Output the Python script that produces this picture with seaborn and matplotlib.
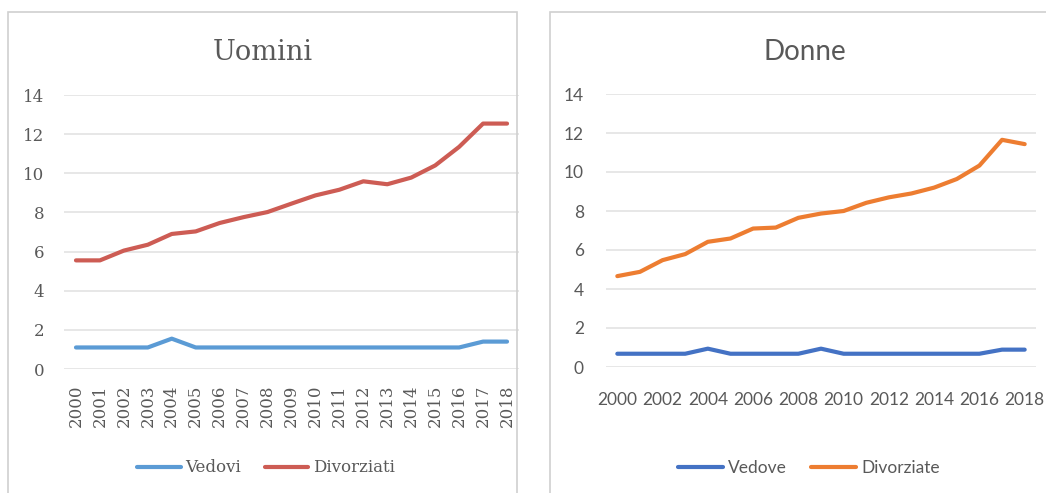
import numpy as np
import pandas as pd
import matplotlib
matplotlib.use("Agg")
import matplotlib.pyplot as plt
from matplotlib.patches import Rectangle
import seaborn as sns

# =========================================
# DATA
# =========================================

years = list(range(2000, 2019))

vedovi = [1.1, 1.1, 1.1, 1.1, 1.55, 1.1, 1.1, 1.1, 1.1, 1.1,
          1.1, 1.1, 1.1, 1.1, 1.1, 1.1, 1.1, 1.4, 1.4]
divorziati = [5.55, 5.55, 6.05, 6.35, 6.9, 7.03, 7.46, 7.76, 8.02, 8.45,
              8.87, 9.16, 9.59, 9.44, 9.78, 10.4, 11.35, 12.54, 12.54]

vedove = [0.68, 0.68, 0.68, 0.68, 0.94, 0.68, 0.68, 0.68, 0.68, 0.94,
          0.68, 0.68, 0.68, 0.68, 0.68, 0.68, 0.68, 0.89, 0.89]
divorziate = [4.66, 4.88, 5.48, 5.79, 6.42, 6.59, 7.1, 7.15, 7.65, 7.87,
              8.0, 8.42, 8.7, 8.9, 9.2, 9.64, 10.33, 11.65, 11.43]

y_ticks = [0, 2, 4, 6, 8, 10, 12, 14]

df_uomini = pd.DataFrame({
    "anno": years * 2,
    "valore": vedovi + divorziati,
    "stato": ["Vedovi"] * len(years) + ["Divorziati"] * len(years),
})

df_donne = pd.DataFrame({
    "anno": years * 2,
    "valore": vedove + divorziate,
    "stato": ["Vedove"] * len(years) + ["Divorziate"] * len(years),
})

# =========================================
# STYLE
# =========================================

sns.set_style("white")

text_color = "#595959"
grid_color = "#e3e3e3"
W, H = 1046, 493

fig = plt.figure(figsize=(W / 100, H / 100), dpi=100)

# chart borders (excel-like chart areas)
fig.patches.append(Rectangle((8 / W, -0.05), (517 - 8) / W, (H - 12) / H + 0.05,
                             transform=fig.transFigure, fill=False,
                             edgecolor="#d0d0d0", linewidth=1.2))
fig.patches.append(Rectangle((550 / W, -0.05), 0.6, (H - 12) / H + 0.05,
                             transform=fig.transFigure, fill=False,
                             edgecolor="#d0d0d0", linewidth=1.2))

ax1 = fig.add_axes([64 / W, (H - 369) / H, 455 / W, 274 / H])
ax2 = fig.add_axes([606 / W, (H - 367) / H, 430 / W, 273 / H])


def style_axis(ax, family, size, ypad, xpad):
    ax.set_ylim(0, 14)
    ax.set_xlim(1999.5, 2018.5)
    ax.set_yticks(y_ticks)
    ax.grid(axis="y", color=grid_color, linewidth=1.2)
    ax.grid(axis="x", visible=False)
    for s in ax.spines.values():
        s.set_visible(False)
    ax.set_xlabel("")
    ax.set_ylabel("")
    ax.tick_params(axis="both", length=0, colors=text_color, labelsize=size)
    ax.tick_params(axis="y", pad=ypad)
    ax.tick_params(axis="x", pad=xpad)
    for lab in ax.get_xticklabels() + ax.get_yticklabels():
        lab.set_family(family)


# =========================================
# UOMINI
# =========================================

sns.lineplot(data=df_uomini, x="anno", y="valore", hue="stato",
             palette={"Vedovi": "#5b9bd5", "Divorziati": "#cd5c54"},
             linewidth=3.0, legend=False, ax=ax1)

ax1.set_xticks(years)
ax1.set_xticklabels([str(y) for y in years], rotation=90)
style_axis(ax1, "DejaVu Serif", 12, 14, 11)

ax1.legend(handles=ax1.lines[:2], labels=["Vedovi", "Divorziati"],
           loc="center", bbox_to_anchor=(266 / W, 1 - 468 / H),
           bbox_transform=fig.transFigure, ncol=2, frameon=False,
           handlelength=2.6, handletextpad=0.3, columnspacing=1.4,
           prop={"family": "DejaVu Serif", "size": 12}, labelcolor=text_color)

fig.text(263 / W, 1 - 52 / H, "Uomini", ha="center", va="center",
         fontsize=19.5, family="DejaVu Serif", color=text_color)

# =========================================
# DONNE
# =========================================

sns.lineplot(data=df_donne, x="anno", y="valore", hue="stato",
             palette={"Vedove": "#4472c4", "Divorziate": "#ed7d31"},
             linewidth=3.0, legend=False, ax=ax2)

ax2.set_xticks(years[::2])
ax2.set_xticklabels([str(y) for y in years[::2]])
style_axis(ax2, "Lato", 12.5, 16, 18)

ax2.legend(handles=ax2.lines[:2], labels=["Vedove", "Divorziate"],
           loc="center", bbox_to_anchor=(809 / W, 1 - 468 / H),
           bbox_transform=fig.transFigure, ncol=2, frameon=False,
           handlelength=2.6, handletextpad=0.3, columnspacing=1.4,
           prop={"family": "Lato", "size": 12.5}, labelcolor=text_color)

fig.text(805 / W, 1 - 52 / H, "Donne", ha="center", va="center",
         fontsize=20, family="Lato", color=text_color)

for ax in (ax1, ax2):
    for line in ax.lines:
        line.set_solid_capstyle("round")
        line.set_solid_joinstyle("round")

fig.savefig("out.png", dpi=100)
